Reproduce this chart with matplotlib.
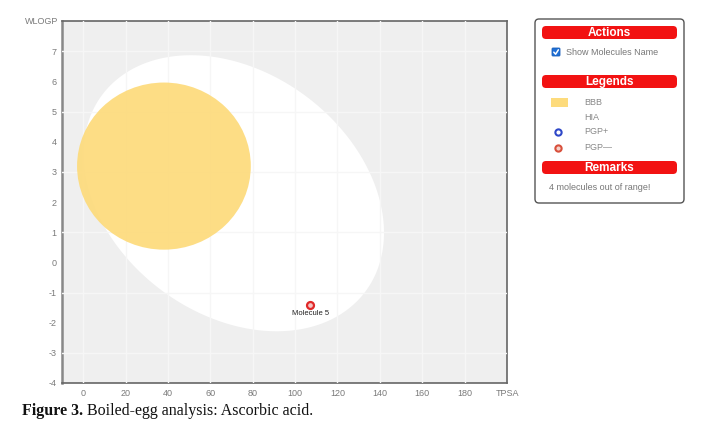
import numpy as np
import matplotlib.pyplot as plt
from matplotlib.patches import Ellipse, FancyBboxPatch, Rectangle

plt.rcParams['font.family'] = ['Liberation Sans', 'DejaVu Sans']
plt.rcParams['axes.unicode_minus'] = False

# boiled-egg regions, in (TPSA, WLOGP) units
yolk_center = (38.1, 3.19)
yolk_radii = (41.0, 2.77)
white_center = (71.05, 2.29)
white_major = (62.1, -3.26)   # conjugate semi-axis vectors
white_minor = (34.2, 3.21)

# molecules
mol_names = ["Molecule 5"]
mol_tpsa = [107.22]
mol_wlogp = [-1.41]

x_ticks = [0, 20, 40, 60, 80, 100, 120, 140, 160, 180]
y_ticks = [-4, -3, -2, -1, 0, 1, 2, 3, 4, 5, 6, 7]
y_grid = [-3, -1, 1, 3, 5, 7]

legend_labels = ["BBB", "HIA", "PGP+", "PGP\u2014"]
remark_text = "4 molecules out of range!"
caption_bold = "Figure 3."
caption_rest = " Boiled-egg analysis: Ascorbic acid."

RED = '#f21212'
YOLK = '#fddb7c'
PLOT_BG = '#efefef'

fig = plt.figure(figsize=(7.28, 4.26), dpi=100)
W, H = 728, 426

# ---- main chart ----
ax = fig.add_axes([62 / W, 1 - 383 / H, 445 / W, 362 / H])
ax.set_facecolor(PLOT_BG)
ax.set_xlim(-10, 200)
ax.set_ylim(-4, 8)

t = np.linspace(0, 2 * np.pi, 400)
wx = white_center[0] + np.cos(t) * white_major[0] + np.sin(t) * white_minor[0]
wy = white_center[1] + np.cos(t) * white_major[1] + np.sin(t) * white_minor[1]
ax.fill(wx, wy, color='white', lw=0, zorder=1)
ax.add_patch(Ellipse(yolk_center, 2 * yolk_radii[0], 2 * yolk_radii[1],
                     facecolor=YOLK, edgecolor='none', alpha=0.93, zorder=3))

ax.set_xticks(x_ticks)
ax.set_yticks(y_ticks)
ax.yaxis.remove_overlapping_locs = False
ax.set_yticks(y_grid, minor=True)
ax.set_axisbelow(False)
ax.grid(False)
ax.xaxis.grid(True, color='#f6f6f6', lw=1.0, zorder=2)
ax.yaxis.grid(True, which='minor', color='#f6f6f6', lw=1.0, zorder=2)
ax.tick_params(which='both', length=0, labelsize=6.5, labelcolor='#7a7a7a')
ax.tick_params(axis='y', which='minor', labelleft=False)
ax.tick_params(axis='y', pad=4)
ax.tick_params(axis='x', pad=4)
for sp in ax.spines.values():
    sp.set_color('#666666')
    sp.set_linewidth(1.2)
ax.spines['left'].set_color('#888888')
ax.spines['left'].set_linewidth(1.8)

ax.plot(mol_tpsa, mol_wlogp, 'o', ms=5, mfc='#f4c4c4', mec='#e02828',
        mew=1.6, zorder=4, clip_on=False)
for name, xv, yv in zip(mol_names, mol_tpsa, mol_wlogp):
    ax.annotate(name, (xv, yv), xytext=(0, -6.5), textcoords='offset points',
                ha='center', va='center', fontsize=5.5, color='#222222')

ax.annotate('TPSA', (200, -4), xytext=(0, -4), textcoords='offset points',
            ha='center', va='top', fontsize=6.5, color='#7a7a7a',
            annotation_clip=False)
ax.annotate('WLOGP', (0, 1), xycoords='axes fraction', xytext=(-3, 0),
            textcoords='offset points', ha='right', va='center',
            fontsize=6.5, color='#7a7a7a')

# ---- side panel, drawn in pixel coordinates ----
ov = fig.add_axes([0, 0, 1, 1], zorder=5)
ov.set_xlim(0, W)
ov.set_ylim(H, 0)
ov.axis('off')
ov.patch.set_alpha(0)

ov.add_patch(FancyBboxPatch((535, 19), 149, 184, boxstyle='round,pad=0,rounding_size=4',
                            facecolor='white', edgecolor='#555555', lw=1.0))


def header(y, label):
    ov.add_patch(FancyBboxPatch((542, y), 135, 13, boxstyle='round,pad=0,rounding_size=4',
                                facecolor=RED, edgecolor='none'))
    ov.text(609.5, y + 6.8, label, ha='center', va='center', color='white',
            fontsize=8.5, fontweight='bold')


header(26, 'Actions')
header(75, 'Legends')
header(161, 'Remarks')

# checkbox
ov.add_patch(FancyBboxPatch((552, 48), 8, 8, boxstyle='round,pad=0,rounding_size=1',
                            facecolor='#1f6fd6', edgecolor='#1a5fb8', lw=0.6))
ov.plot([553.8, 555.6, 558.4], [52.2, 54.2, 49.8], color='white', lw=1.1,
        solid_capstyle='round')
ov.text(566, 52.5, 'Show Molecules Name', ha='left', va='center',
        fontsize=6.5, color='#777777')

# legend entries
leg_y = [102.5, 117.5, 132, 148]
ov.add_patch(Rectangle((551, 98), 17, 9, facecolor=YOLK, edgecolor='none'))
ov.add_patch(Rectangle((551, 113), 17, 9, facecolor='white', edgecolor='none'))
ov.plot([558], [leg_y[2]], 'o', ms=4.5, mfc='white', mec='#2f48c8', mew=1.5)
ov.plot([558], [leg_y[3]], 'o', ms=4.5, mfc='#f6d0c8', mec='#d8503c', mew=1.5)
for lab, yv in zip(legend_labels, leg_y):
    ov.text(584, yv, lab, ha='left', va='center', fontsize=6.5, color='#888888')

ov.text(549, 187, remark_text, ha='left', va='center', fontsize=6.5, color='#777777')

# caption
cap = ov.text(22, 411, caption_bold, ha='left', va='center', fontsize=11.5,
              fontweight='bold', family='Liberation Serif', color='#111111')
ov.annotate(caption_rest, xy=(1, 0.5), xycoords=cap, ha='left', va='center',
            fontsize=11.5, family='Liberation Serif', color='#111111')

fig.savefig('out.png', dpi=100)
